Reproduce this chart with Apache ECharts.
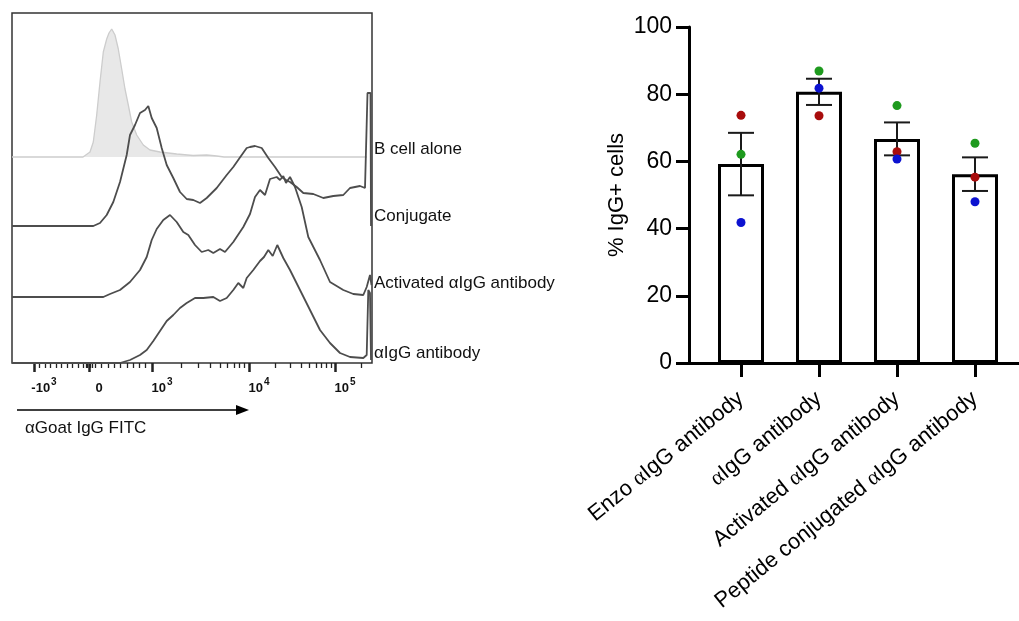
<!DOCTYPE html>
<html>
<head>
    <meta charset="utf-8" />
    <title></title>
    <script src="https://cdn.jsdelivr.net/npm/echarts@6/dist/echarts.min.js"></script>
    <style>
        html, body { margin: 0; padding: 0; background: #fff; }
    </style>
</head>
<body>
<div id="main" style="width: 1019px; height: 621px"></div>
<script type="text/javascript">
    // ---- left panel: stacked flow histograms (x = display channel 0..360, y = scaled count) ----
    var histNames = ['αIgG antibody', 'Activated αIgG antibody', 'Conjugate', 'B cell alone'];
    var histOffsets = [0, 66, 137, 206];

    var bCellAlone = [[0, 0], [71, 0], [78, 5], [81.3, 15], [84.7, 42], [88, 75], [91.3, 105], [94.7, 118],
        [97, 124], [99.7, 128], [101.5, 126], [103, 122], [106.3, 108], [109.7, 88], [113, 68], [116.3, 52],
        [119.7, 35], [124.7, 22], [131.3, 12], [138, 7], [148, 5], [164.7, 3], [181, 1.5], [194.7, 2],
        [204.7, 1], [212, 0], [355, 0]];
    var conjugate = [[0, 0], [81.3, 0], [88, 3], [94.7, 11], [101.3, 24], [108, 44], [114.7, 71], [118, 91],
        [123, 101], [128, 113], [133, 116], [136.3, 120], [139.7, 108], [144.7, 98], [149.7, 78], [154.7, 61],
        [161.3, 48], [168, 34], [174.7, 27], [181.3, 26], [188, 23], [194.7, 28], [204.7, 38], [214.7, 51],
        [221.3, 59], [229.7, 71], [234.7, 78], [238, 79], [243, 80], [249.7, 78], [256.3, 68], [263, 59],
        [269.7, 49], [274, 46], [278, 44], [284.7, 39], [291.3, 33], [301.3, 32], [311.3, 28], [321.3, 30],
        [331.3, 31], [338, 38], [348, 40], [353, 38], [355.5, 133], [358.5, 133], [359, 0]];
    var activated = [[0, 0], [91.3, 0], [98, 3], [108, 7], [118, 15], [128, 27], [134.7, 40], [139.7, 57],
        [144.7, 68], [151.3, 77], [158, 82], [164.7, 75], [171.3, 65], [176.3, 62], [183, 52], [189.7, 45],
        [196.3, 47], [201.3, 44], [208, 48], [213, 45], [221.3, 55], [231.3, 70], [238, 83], [243, 100],
        [248, 107], [253, 102], [258, 118], [264.7, 120], [268, 117], [271.3, 121], [274, 114], [278, 120],
        [283, 110], [289.7, 90], [296.3, 60], [308, 37], [318, 15], [331.3, 7], [341.3, 3], [351.3, 2],
        [354.7, 10], [358, 22], [359.5, 12]];
    var antiIgG = [[0, 0], [108, 0], [118, 3], [128, 8], [134.7, 13], [141.3, 22], [148, 32], [154.7, 42],
        [161.3, 48], [168, 55], [174.7, 60], [183, 65], [191.3, 65], [201.3, 66], [208, 62], [214.7, 65],
        [221.3, 73], [226.3, 80], [231.3, 75], [234.7, 85], [241.3, 93], [248, 102], [252, 106], [256.3, 113],
        [260.7, 107], [265.3, 118], [271.3, 105], [278, 93], [288, 73], [298, 53], [308, 33], [318, 20],
        [328, 10], [338, 6], [351.3, 5], [354.7, 8], [356.3, 73], [358, 70], [359, 3]];

    // biexponential axis: fluorescence value -> display channel
    var biexAnchors = [[-1000, 22], [0, 77], [1000, 140], [10000, 237], [100000, 323]];
    var majorTickValues = [-1000, 0, 1000, 10000, 100000];
    var majorTickLabels = ['{n|-10}{s|3}', '{n|0}', '{n|10}{s|3}', '{n|10}{s|4}', '{n|10}{s|5}'];
    var minorTickValues = [-900, -800, -700, -600, -500, -400, -300, -200, -100, -50, -25, 25, 50,
        100, 200, 300, 400, 500, 600, 700, 800, 900,
        2000, 3000, 4000, 5000, 6000, 7000, 8000, 9000,
        20000, 30000, 40000, 50000, 60000, 70000, 80000, 90000, 200000];

    function biex(v) {
        var a = biexAnchors;
        var i = 0;
        while (i < a.length - 2 && v > a[i + 1][0]) i++;
        var p = a[i], q = a[i + 1];
        if (p[0] >= 1000) {
            return p[1] + (q[1] - p[1]) * Math.log10(v / p[0]) / Math.log10(q[0] / p[0]);
        }
        return p[1] + (q[1] - p[1]) * (v - p[0]) / (q[0] - p[0]);
    }
    var majorTickPos = majorTickValues.map(biex);
    var minorTickPos = minorTickValues.map(biex);

    // ---- right panel: % IgG+ cells ----
    var categories = ['Enzo αIgG antibody', 'αIgG antibody', 'Activated αIgG antibody', 'Peptide conjugated αIgG antibody'];
    var means = [59.2, 80.7, 66.7, 56.2];
    var sem = [9.3, 3.9, 4.9, 5.0];
    var repRed = [73.7, 73.6, 62.9, 55.3];
    var repGreen = [62.1, 86.9, 76.6, 65.4];
    var repBlue = [41.8, 81.8, 60.7, 48.0];

    var font = 'Liberation Sans, Arial, sans-serif';
    var myChart = echarts.init(document.getElementById('main'));

    var histData = [antiIgG, activated, conjugate, bCellAlone];
    var histSeries = histData.map(function (d, k) {
        var isControl = k === 3;
        return {
            name: histNames[k],
            type: 'line',
            xAxisIndex: 0,
            yAxisIndex: k,
            data: d,
            symbol: 'none',
            smooth: false,
            z: isControl ? 1 : 3,
            lineStyle: isControl ? { color: '#cdcdcd', width: 1.3 } : { color: '#4d4d4d', width: 1.8 },
            areaStyle: isControl ? { color: '#e8e8e8', opacity: 1 } : null
        };
    });
    var histYAxes = histOffsets.map(function (off) {
        return { gridIndex: 0, type: 'value', min: -off, max: 350 - off, show: false };
    });

    var errData = means.map(function (m, i) { return [i, m - sem[i], m + sem[i]]; });

    myChart.setOption({
        animation: false,
        textStyle: { fontFamily: font },
        grid: [
            { left: 12, top: 13, width: 360, height: 350, show: true, borderColor: '#333', borderWidth: 1.5 },
            { left: 689, top: 27, width: 330, height: 336 },
            { left: 702, top: 27, width: 312, height: 336 }
        ],
        xAxis: [
            {
                gridIndex: 0, type: 'value', min: 0, max: 360, position: 'bottom',
                axisLine: { show: false, onZero: false }, splitLine: { show: false },
                axisTick: { customValues: majorTickPos, length: 9, lineStyle: { color: '#222', width: 2.5 } },
                axisLabel: {
                    customValues: majorTickPos, margin: 14, padding: [0, 0, 0, 20], color: '#111',
                    formatter: function (v) {
                        var best = 0;
                        for (var i = 0; i < majorTickPos.length; i++) {
                            if (Math.abs(majorTickPos[i] - v) < Math.abs(majorTickPos[best] - v)) best = i;
                        }
                        return majorTickLabels[best];
                    },
                    rich: {
                        n: { fontSize: 13, fontWeight: 'bold', fontFamily: font, color: '#111', lineHeight: 18, verticalAlign: 'bottom' },
                        s: { fontSize: 10, fontWeight: 'bold', fontFamily: font, color: '#111', lineHeight: 18, verticalAlign: 'top', padding: [0, 0, 6, 1] }
                    }
                }
            },
            {
                gridIndex: 0, type: 'value', min: 0, max: 360, position: 'bottom',
                axisLine: { show: false, onZero: false }, splitLine: { show: false }, axisLabel: { show: false },
                axisTick: { customValues: minorTickPos, length: 5, lineStyle: { color: '#222', width: 1.3 } }
            },
            {
                gridIndex: 1, type: 'value', min: 0, max: 1,
                axisLine: { show: true, onZero: false, lineStyle: { color: '#000', width: 3 } },
                axisTick: { show: false }, axisLabel: { show: false }, splitLine: { show: false }
            },
            {
                gridIndex: 2, type: 'category', data: categories,
                axisLine: { show: false, onZero: false },
                axisTick: { show: true, alignWithLabel: true, length: 14, lineStyle: { color: '#000', width: 3 } },
                axisLabel: {
                    rotate: 39, margin: 33, fontSize: 22, color: '#000', fontFamily: font, interval: 0,
                    formatter: function (v) { return v.split('α').join('{g|α}'); },
                    rich: { g: { fontSize: 22, fontFamily: 'Liberation Serif, DejaVu Serif, serif', color: '#000' } }
                }
            }
        ],
        yAxis: histYAxes.concat([
            {
                gridIndex: 1, type: 'value', min: 0, max: 100, interval: 20,
                name: '% IgG+ cells', nameLocation: 'middle', nameGap: 61,
                nameTextStyle: { fontSize: 22, color: '#000', fontFamily: font },
                axisLine: { show: true, lineStyle: { color: '#000', width: 3 } },
                axisTick: { show: true, length: 13, lineStyle: { color: '#000', width: 3 } },
                axisLabel: { fontSize: 23, color: '#000', margin: 17, fontFamily: font },
                splitLine: { show: false }
            },
            { gridIndex: 2, type: 'value', min: 0, max: 100, show: false }
        ]),
        graphic: [
            { type: 'text', x: 374, y: 149, style: { text: 'B cell alone', fontSize: 17, fontFamily: font, fill: '#111', verticalAlign: 'middle' } },
            { type: 'text', x: 374, y: 216, style: { text: 'Conjugate', fontSize: 17, fontFamily: font, fill: '#111', verticalAlign: 'middle' } },
            { type: 'text', x: 374, y: 283, style: { text: 'Activated αIgG antibody', fontSize: 17, fontFamily: font, fill: '#111', verticalAlign: 'middle' } },
            { type: 'text', x: 374, y: 353, style: { text: 'αIgG antibody', fontSize: 17, fontFamily: font, fill: '#111', verticalAlign: 'middle' } },
            { type: 'line', shape: { x1: 17, y1: 410, x2: 238, y2: 410 }, style: { stroke: '#000', lineWidth: 1.3 } },
            { type: 'polygon', shape: { points: [[236, 405], [249, 410], [236, 415]] }, style: { fill: '#000' } },
            { type: 'text', x: 25, y: 428, style: { text: 'αGoat IgG FITC', fontSize: 17, fontFamily: font, fill: '#111', verticalAlign: 'middle' } }
        ],
        series: histSeries.concat([
            {
                type: 'bar', xAxisIndex: 3, yAxisIndex: 5, data: means, barWidth: 46, z: 2,
                itemStyle: { color: '#fff', borderColor: '#000', borderWidth: 3 }
            },
            {
                type: 'custom', xAxisIndex: 3, yAxisIndex: 5, data: errData, z: 3,
                renderItem: function (params, api) {
                    var i = api.value(0);
                    var lo = api.coord([i, api.value(1)]);
                    var hi = api.coord([i, api.value(2)]);
                    var hw = 13;
                    var st = { stroke: '#1a1a1a', lineWidth: 2 };
                    return {
                        type: 'group',
                        children: [
                            { type: 'line', shape: { x1: lo[0], y1: lo[1], x2: hi[0], y2: hi[1] }, style: st },
                            { type: 'line', shape: { x1: hi[0] - hw, y1: hi[1], x2: hi[0] + hw, y2: hi[1] }, style: st },
                            { type: 'line', shape: { x1: lo[0] - hw, y1: lo[1], x2: lo[0] + hw, y2: lo[1] }, style: st }
                        ]
                    };
                }
            },
            { type: 'scatter', xAxisIndex: 3, yAxisIndex: 5, data: repRed, symbolSize: 9, z: 4, itemStyle: { color: '#a80c0c', opacity: 1 } },
            { type: 'scatter', xAxisIndex: 3, yAxisIndex: 5, data: repGreen, symbolSize: 9, z: 4, itemStyle: { color: '#1e9a1e', opacity: 1 } },
            { type: 'scatter', xAxisIndex: 3, yAxisIndex: 5, data: repBlue, symbolSize: 9, z: 4, itemStyle: { color: '#0c12d0', opacity: 1 } }
        ])
    });
</script>
</body>
</html>
